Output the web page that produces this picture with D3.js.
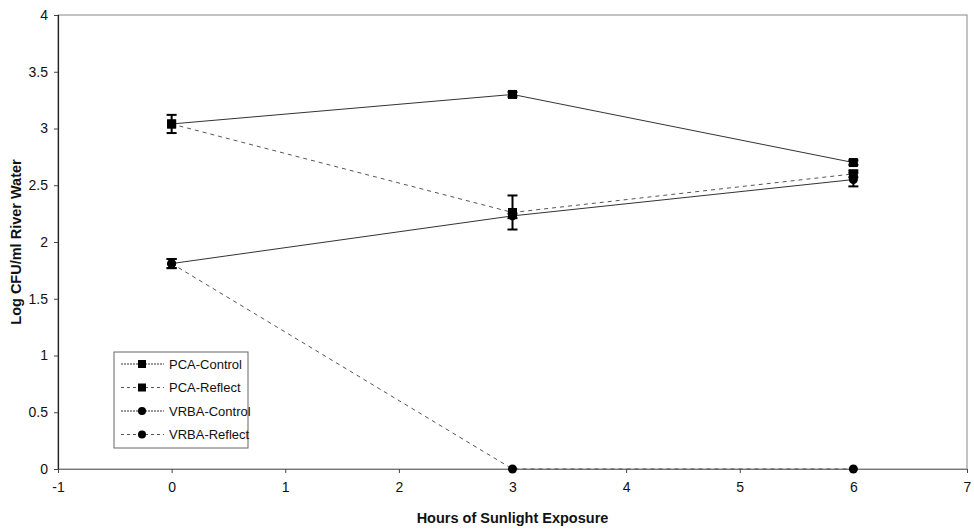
<!DOCTYPE html>
<html>
<head>
<meta charset="utf-8">
<script src="https://cdn.jsdelivr.net/npm/d3@7"></script>
<style>
  body { margin: 0; background: #fff; }
  text { font-family: Arial, "Liberation Sans", sans-serif; fill: #111; }
</style>
</head>
<body>
<script>
// values
var hours = [0, 3, 6];
var seriesNames = ["PCA-Control", "PCA-Reflect", "VRBA-Control", "VRBA-Reflect"];
var pcaControl = [3.04, 3.30, 2.70];
var pcaReflect = [3.04, 2.26, 2.60];
var vrbaControl = [1.81, 2.23, 2.55];
var vrbaReflect = [1.81, 0, 0];
var pcaControlErr = [0.08, 0.02, 0.02];
var pcaReflectErr = [0, 0.15, 0.03];
var vrbaControlErr = [0.04, 0.02, 0.06];
var vrbaReflectErr = [0.04, 0, 0];
var xTicks = [-1, 0, 1, 2, 3, 4, 5, 6, 7];
var yTicks = [0, 0.5, 1, 1.5, 2, 2.5, 3, 3.5, 4];

var series = [
  {name: seriesNames[0], values: pcaControl, err: pcaControlErr, marker: "square", dash: null},
  {name: seriesNames[1], values: pcaReflect, err: pcaReflectErr, marker: "square", dash: "4,4"},
  {name: seriesNames[2], values: vrbaControl, err: vrbaControlErr, marker: "circle", dash: null},
  {name: seriesNames[3], values: vrbaReflect, err: vrbaReflectErr, marker: "circle", dash: "4,4"}
];

var svg = d3.select("body").append("svg")
  .attr("width", 974)
  .attr("height", 530);

var x = d3.scaleLinear().domain([-1, 7]).range([58, 967]);
var y = d3.scaleLinear().domain([0, 4]).range([469, 15]);

// plot frame
svg.append("rect")
  .attr("x", x(-1)).attr("y", y(4))
  .attr("width", x(7) - x(-1)).attr("height", y(0) - y(4))
  .attr("fill", "none")
  .attr("stroke", "#888")
  .attr("stroke-width", 1);

// y axis
var yAxis = svg.append("g")
  .attr("transform", "translate(" + x(-1) + ",0)")
  .call(d3.axisLeft(y).tickValues(yTicks).tickSize(4).tickPadding(6)
    .tickFormat(function(d) { return d; }));
yAxis.select(".domain").attr("stroke", "#222").attr("stroke-width", 1.2);
yAxis.selectAll(".tick line").attr("stroke", "#444");
yAxis.selectAll("text").attr("font-size", 14).attr("fill", "#111");

// x axis
var xAxis = svg.append("g")
  .attr("transform", "translate(0," + y(0) + ")")
  .call(d3.axisBottom(x).tickValues(xTicks).tickSize(4).tickPadding(9)
    .tickFormat(function(d) { return d; }));
xAxis.select(".domain").attr("stroke", "#777").attr("stroke-width", 1);
xAxis.selectAll(".tick line").attr("stroke", "#444");
xAxis.selectAll("text").attr("font-size", 14).attr("fill", "#111");

// axis titles
svg.append("text")
  .attr("x", (x(-1) + x(7)) / 2)
  .attr("y", 523)
  .attr("text-anchor", "middle")
  .attr("font-size", 14.5)
  .attr("font-weight", "bold")
  .text("Hours of Sunlight Exposure");

svg.append("text")
  .attr("transform", "translate(21," + (y(0) + y(4)) / 2 + ") rotate(-90)")
  .attr("text-anchor", "middle")
  .attr("font-size", 14.5)
  .attr("font-weight", "bold")
  .text("Log CFU/ml River Water");

var line = d3.line()
  .x(function(d, i) { return x(hours[i]); })
  .y(function(d) { return y(d); });

function drawMarker(g, type, cx, cy, size) {
  if (type === "square") {
    g.append("rect")
      .attr("x", cx - size / 2).attr("y", cy - size / 2)
      .attr("width", size).attr("height", size)
      .attr("fill", "#000");
  } else {
    g.append("circle")
      .attr("cx", cx).attr("cy", cy)
      .attr("r", size / 2)
      .attr("fill", "#000");
  }
}

series.forEach(function(s) {
  var g = svg.append("g");
  g.append("path")
    .datum(s.values)
    .attr("d", line)
    .attr("fill", "none")
    .attr("stroke", s.dash ? "#555" : "#333")
    .attr("stroke-width", 1)
    .attr("stroke-dasharray", s.dash);

  s.values.forEach(function(v, i) {
    var e = s.err[i];
    var cx = x(hours[i]);
    if (e > 0) {
      g.append("line")
        .attr("x1", cx).attr("x2", cx)
        .attr("y1", y(v - e)).attr("y2", y(v + e))
        .attr("stroke", "#000").attr("stroke-width", 2);
      [v - e, v + e].forEach(function(c) {
        g.append("line")
          .attr("x1", cx - 5).attr("x2", cx + 5)
          .attr("y1", y(c)).attr("y2", y(c))
          .attr("stroke", "#000").attr("stroke-width", 2);
      });
    }
    drawMarker(g, s.marker, cx, y(v), 9);
  });
});

// legend
var legend = svg.append("g").attr("transform", "translate(114,352)");
legend.append("rect")
  .attr("width", 134).attr("height", 96)
  .attr("fill", "#fff")
  .attr("stroke", "#666")
  .attr("stroke-width", 1);

series.forEach(function(s, i) {
  var ly = 12 + i * 23.5;
  var row = legend.append("g");
  row.append("line")
    .attr("x1", 7).attr("x2", 50)
    .attr("y1", ly).attr("y2", ly)
    .attr("stroke", s.dash ? "#555" : "#333")
    .attr("stroke-width", 1)
    .attr("stroke-dasharray", s.dash ? "3,3" : "2,1");
  drawMarker(row, s.marker, 28, ly, 8);
  row.append("text")
    .attr("x", 55).attr("y", ly + 4.5)
    .attr("font-size", 13)
    .text(s.name);
});
</script>
</body>
</html>
